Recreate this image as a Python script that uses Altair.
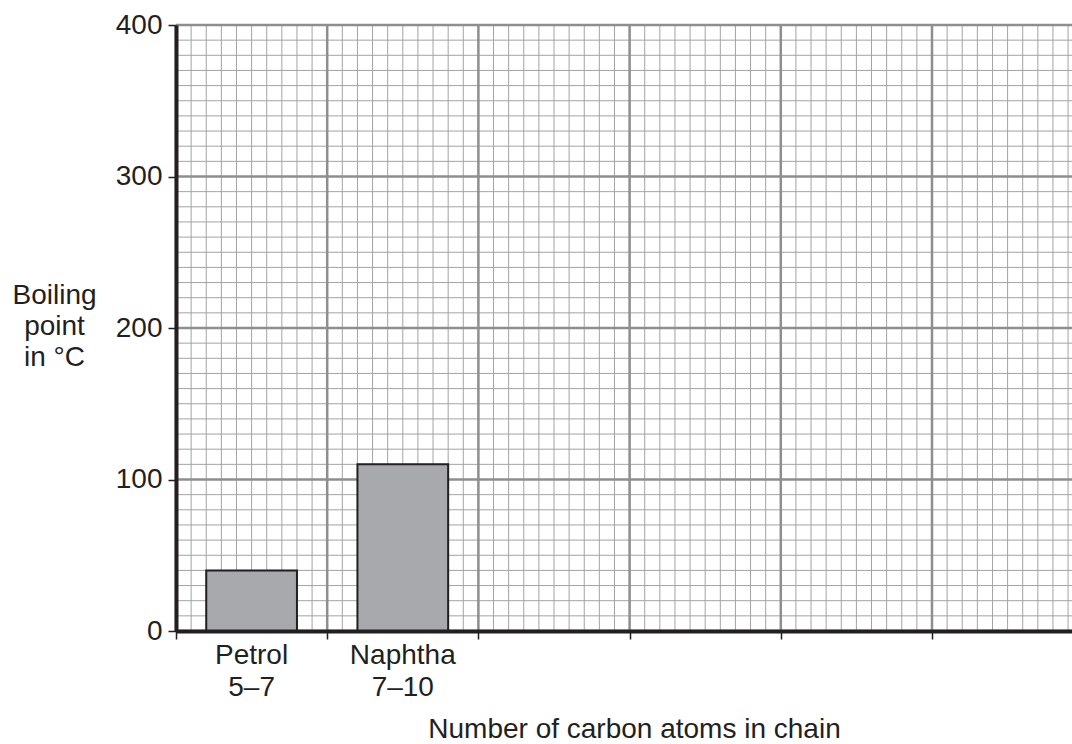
import altair as alt
import pandas as pd
import numpy as np

# ---- data ----
categories = ["Petrol", "Naphtha"]
carbon_ranges = ["5–7", "7–10"]
boiling_points = [40, 110]

y_ticks = [0, 100, 200, 300, 400]
x_boundaries = [0, 1, 2, 3, 4, 5]

# ---- layout / style ----
W, H = 896, 606
X_MAX = 5.926
FONT = "Liberation Sans"
FS = 28
INK = "#231f20"

bars = pd.DataFrame({
    "category": categories,
    "range": carbon_ranges,
    "bp": boiling_points,
    "idx": list(range(len(categories))),
})
bars["x0"] = bars["idx"] + 0.2
bars["x1"] = bars["idx"] + 0.8
bars["xc"] = bars["idx"] + 0.5
bars["label"] = bars["category"] + "\n" + bars["range"]

minor_x = pd.DataFrame({"x": np.round(np.arange(0, 5.95, 0.1), 2)})
minor_y = pd.DataFrame({"y": np.arange(0, 401, 10)})
major_x = pd.DataFrame({"x": x_boundaries})
major_y = pd.DataFrame({"y": y_ticks})

xscale = alt.Scale(domain=[0, X_MAX], nice=False, zero=False)
yscale = alt.Scale(domain=[0, 400], nice=False)

x_axis = alt.Axis(
    values=x_boundaries, labels=False, ticks=True, tickSize=8, tickColor=INK,
    tickWidth=1.5, domain=True, domainColor=INK, domainWidth=4, grid=False,
    title="Number of carbon atoms in chain", titleFont=FONT, titleFontSize=FS,
    titleFontWeight="normal", titleColor=INK, titleX=458, titleY=106,
    titleAlign="center", titleBaseline="alphabetic", zindex=1,
)
y_axis = alt.Axis(
    values=y_ticks, labels=True, labelFont=FONT, labelFontSize=FS, labelColor=INK,
    labelPadding=6, labelFlush=False, tickSize=8, tickColor=INK, tickWidth=1.5,
    domain=True, domainColor=INK, domainWidth=4, grid=False,
    title=["Boiling", "point", "in °C"], titleAngle=0, titleX=-122, titleY=278,
    titleAlign="center", titleBaseline="alphabetic", titleLineHeight=31,
    titleFont=FONT, titleFontSize=FS, titleFontWeight="normal", titleColor=INK,
    zindex=1,
)

minor_v = alt.Chart(minor_x).mark_rule(color="#a3a3a3", strokeWidth=1).encode(
    x=alt.X("x:Q", scale=xscale, axis=x_axis))
minor_h = alt.Chart(minor_y).mark_rule(color="#a3a3a3", strokeWidth=1).encode(
    y=alt.Y("y:Q", scale=yscale, axis=y_axis))
major_v = alt.Chart(major_x).mark_rule(color="#8e8e8e", strokeWidth=2.5).encode(
    x=alt.X("x:Q", scale=xscale, axis=x_axis))
major_h = alt.Chart(major_y).mark_rule(color="#8e8e8e", strokeWidth=2.5).encode(
    y=alt.Y("y:Q", scale=yscale, axis=y_axis))

bar_layer = alt.Chart(bars).mark_bar(fill="#a7a9ac", stroke=INK, strokeWidth=2).encode(
    x=alt.X("x0:Q", scale=xscale, axis=x_axis),
    x2="x1:Q",
    y=alt.Y("bp:Q", scale=yscale, axis=y_axis),
    y2=alt.datum(0),
)

label_layer = alt.Chart(bars).mark_text(
    font=FONT, fontSize=FS, lineBreak="\n", baseline="alphabetic",
    align="center", color=INK, lineHeight=31.5,
).encode(
    x=alt.X("xc:Q", scale=xscale, axis=x_axis),
    y=alt.value(639),
    text="label:N",
)

chart = alt.layer(minor_v, minor_h, major_v, major_h, bar_layer, label_layer).properties(
    width=W, height=H,
    autosize=alt.AutoSizeParams(type="none"),
    padding={"left": 176, "top": 25, "right": 0, "bottom": 113},
    background="white",
).configure_view(stroke=None)

chart.save("out.html", embed_options={"renderer": "svg", "actions": False})
